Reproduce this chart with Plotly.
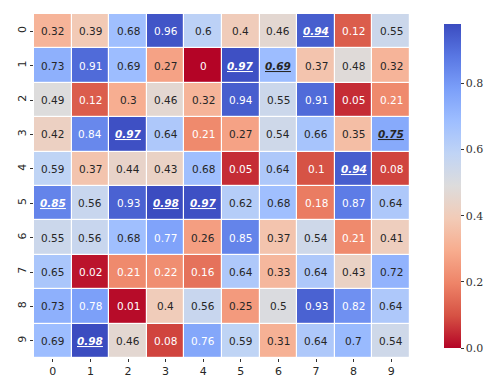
import plotly.graph_objects as go

rows = [str(i) for i in range(10)]
cols = [str(i) for i in range(10)]
values = [
    [0.32, 0.39, 0.68, 0.96, 0.60, 0.40, 0.46, 0.94, 0.12, 0.55],
    [0.73, 0.91, 0.69, 0.27, 0.00, 0.97, 0.69, 0.37, 0.48, 0.32],
    [0.49, 0.12, 0.30, 0.46, 0.32, 0.94, 0.55, 0.91, 0.05, 0.21],
    [0.42, 0.84, 0.97, 0.64, 0.21, 0.27, 0.54, 0.66, 0.35, 0.75],
    [0.59, 0.37, 0.44, 0.43, 0.68, 0.05, 0.64, 0.10, 0.94, 0.08],
    [0.85, 0.56, 0.93, 0.98, 0.97, 0.62, 0.68, 0.18, 0.87, 0.64],
    [0.55, 0.56, 0.68, 0.77, 0.26, 0.85, 0.37, 0.54, 0.21, 0.41],
    [0.65, 0.02, 0.21, 0.22, 0.16, 0.64, 0.33, 0.64, 0.43, 0.72],
    [0.73, 0.78, 0.01, 0.40, 0.56, 0.25, 0.50, 0.93, 0.82, 0.64],
    [0.69, 0.98, 0.46, 0.08, 0.76, 0.59, 0.31, 0.64, 0.70, 0.54],
]
colorbar_ticks = [0.0, 0.2, 0.4, 0.6, 0.8]

coolwarm_r = [
    [0.0, "#b40426"], [0.1, "#d65244"], [0.2, "#ee8468"], [0.3, "#f7ac8e"],
    [0.4, "#f2cbb7"], [0.5, "#dddcdc"], [0.6, "#c0d4f5"], [0.7, "#9ebeff"],
    [0.8, "#7b9ff9"], [0.9, "#5977e3"], [1.0, "#3b4cc0"],
]

zmin = min(min(r) for r in values)
zmax = max(max(r) for r in values)

fig = go.Figure(go.Heatmap(
    z=values, x=cols, y=rows,
    colorscale=coolwarm_r, zmin=zmin, zmax=zmax,
    xgap=1.2, ygap=1.2,
    colorbar=dict(
        x=1.065, xanchor="left", y=0.5, yanchor="middle",
        len=1.0, lenmode="fraction", thickness=17, outlinewidth=0,
        tickvals=colorbar_ticks, ticktext=[f"{t:.1f}" for t in colorbar_ticks],
        ticks="outside", ticklen=3, tickwidth=1, tickcolor="#333",
        tickfont=dict(family="DejaVu Serif, Liberation Serif, serif", size=11, color="#333"),
    ),
    hoverinfo="skip",
))

# column maxima highlighted
col_max_row = []
for j in range(len(cols)):
    colvals = [values[i][j] for i in range(len(rows))]
    col_max_row.append(colvals.index(max(colvals)))

annotations = []
for i, r in enumerate(rows):
    for j, c in enumerate(cols):
        v = values[i][j]
        txt = f"{v:.2f}".rstrip("0").rstrip(".") if v != 0 else "0"
        color = "white" if (v <= 0.22 or v >= 0.76) else "#262626"
        if col_max_row[j] == i:
            txt = f"<b><i><u>{txt}</u></i></b>"
        annotations.append(dict(
            x=c, y=r, text=txt, showarrow=False,
            font=dict(family="DejaVu Sans", size=10.5, color=color),
        ))

fig.update_layout(
    width=492, height=376,
    margin=dict(l=26, r=80, t=6, b=24),
    paper_bgcolor="white", plot_bgcolor="white",
    annotations=annotations,
    xaxis=dict(tickvals=cols, ticks="outside", ticklen=3, tickcolor="#333",
               showgrid=False, zeroline=False, showline=False,
               tickfont=dict(family="DejaVu Sans", size=11, color="#262626")),
    yaxis=dict(tickvals=rows, autorange="reversed", ticks="outside", ticklen=3,
               tickcolor="#333", tickangle=-90, showgrid=False, zeroline=False,
               showline=False,
               tickfont=dict(family="DejaVu Sans", size=11, color="#262626")),
)

fig.write_html("out.html")
